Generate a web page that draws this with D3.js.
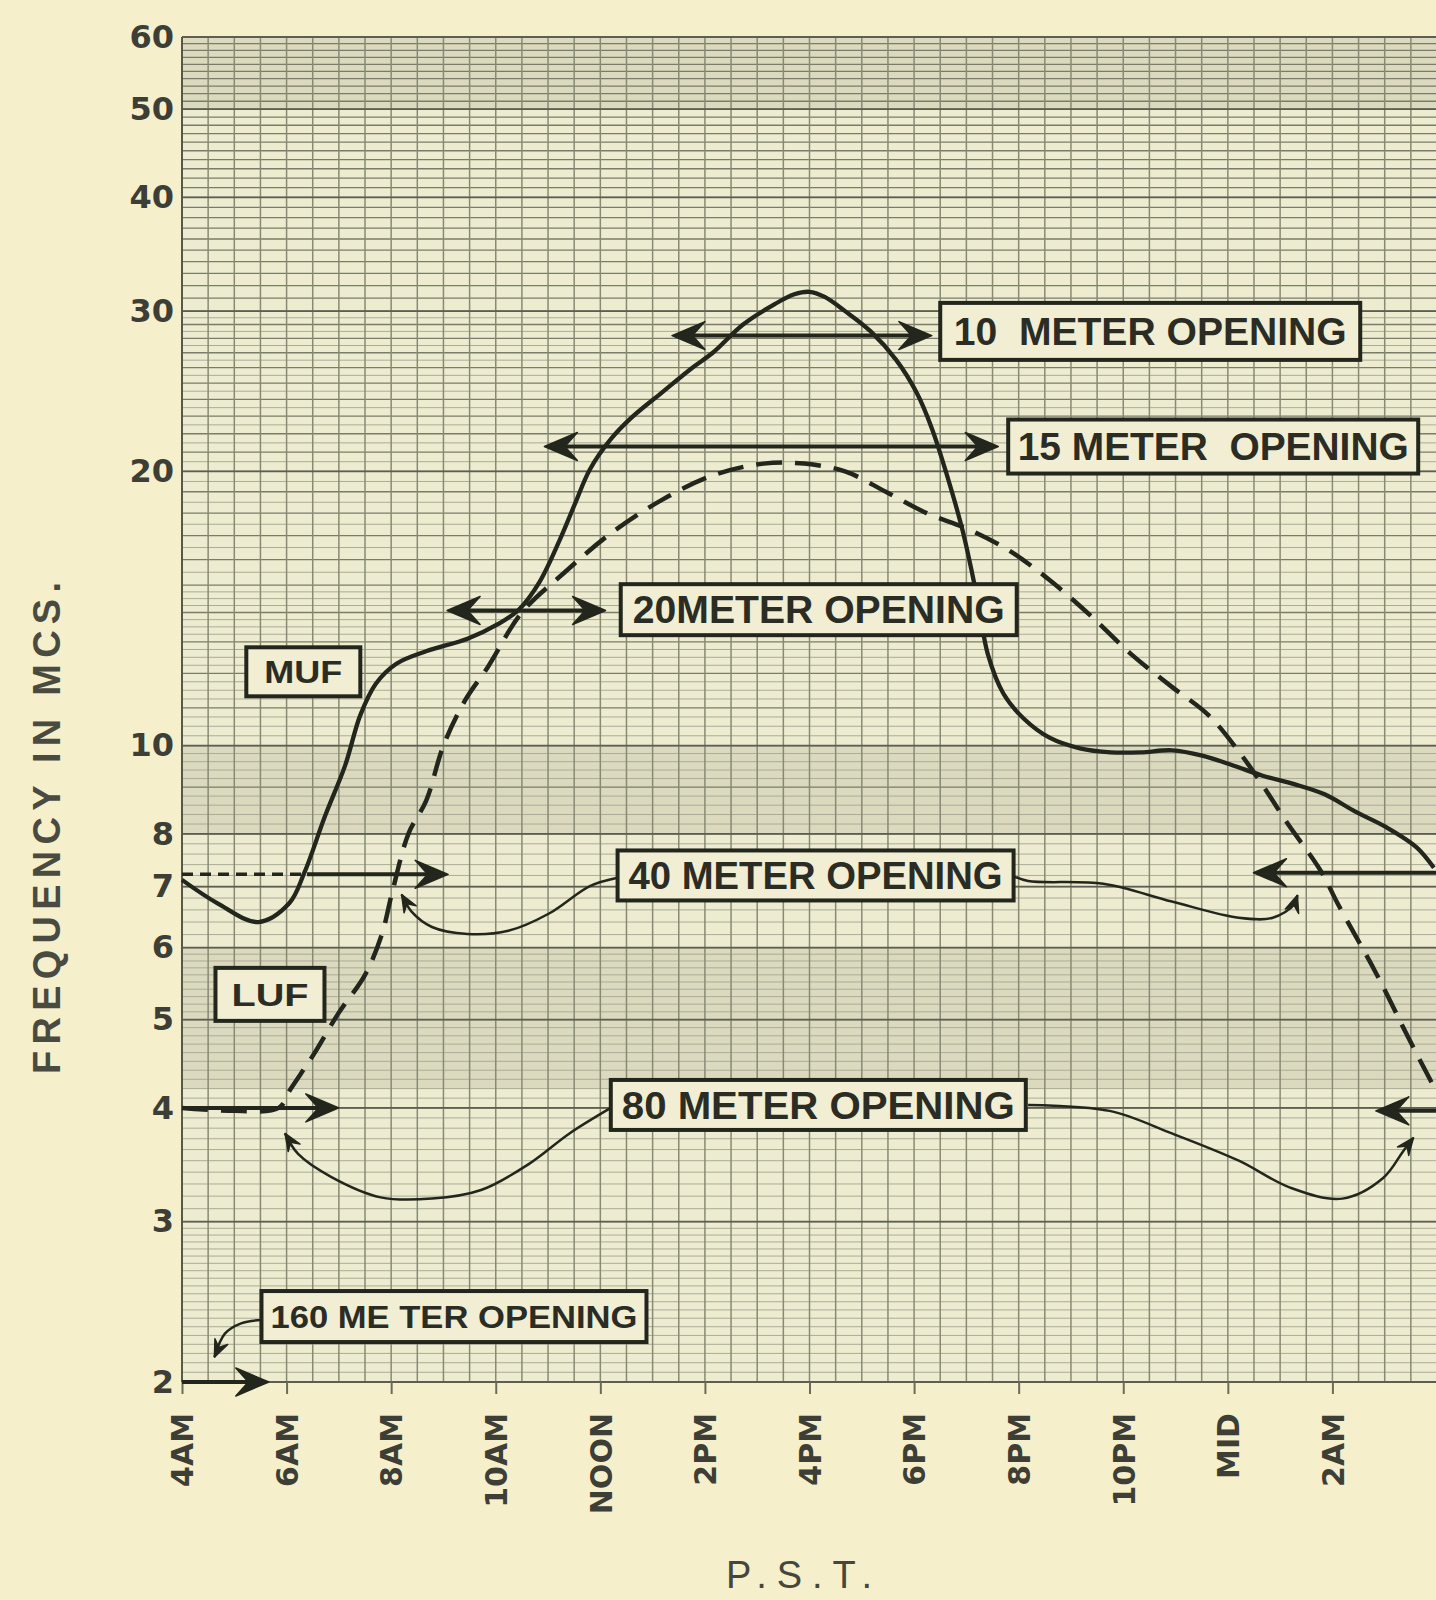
<!DOCTYPE html>
<html>
<head>
<meta charset="utf-8">
<script src="https://cdn.jsdelivr.net/npm/d3@7"></script>
<style>
  body { margin: 0; background: #f6efcb; }
  svg { display: block; }
</style>
</head>
<body>
<svg id="chart" width="1436" height="1600"></svg>
<script>
// hours are counted from 4 AM, frequency in Mc
let hourTicks = [0, 2, 4, 6, 8, 10, 12, 14, 16, 18, 20, 22]
let hourLabels = ['4AM', '6AM', '8AM', '10AM', 'NOON', '2PM', '4PM', '6PM', '8PM', '10PM', 'MID', '2AM']
let freqTicks = [2, 3, 4, 5, 6, 7, 8, 10, 20, 30, 40, 50, 60]

let mufHours = [0, 0.68, 1.46, 2.05, 2.34, 2.73, 3.12, 3.41, 3.71, 4.10, 4.68, 5.46, 6.05, 6.44, 6.83, 7.22, 7.51, 7.80, 8.20, 8.59, 9.17, 9.76, 10.15, 10.73, 11.32, 11.71, 12.0, 12.29, 12.68, 13.17, 13.66, 14.05, 14.34, 14.63, 14.93, 15.22, 15.41, 15.71, 16.10, 16.59, 17.17, 17.76, 18.34, 18.93, 19.51, 20.10, 20.68, 21.27, 21.85, 22.44, 23.02, 23.61, 23.94]
let mufFreq = [7.12, 6.71, 6.40, 6.71, 7.25, 8.35, 9.51, 10.8, 11.7, 12.3, 12.7, 13.1, 13.6, 14.1, 15.1, 16.8, 18.4, 20.1, 21.7, 22.9, 24.4, 26.0, 27.0, 29.0, 30.5, 31.3, 31.5, 31.1, 30.0, 28.5, 26.5, 24.4, 22.3, 19.8, 17.2, 14.4, 12.6, 11.4, 10.7, 10.2, 9.93, 9.83, 9.83, 9.88, 9.75, 9.51, 9.26, 9.07, 8.84, 8.46, 8.14, 7.73, 7.34]

let lufHours = [0, 1.0, 1.85, 2.07, 2.54, 2.99, 3.50, 3.82, 4.02, 4.33, 4.67, 5.0, 5.41, 5.85, 6.5, 7.32, 8.20, 9.17, 10.15, 11.12, 11.90, 12.68, 13.46, 14.24, 15.02, 15.80, 16.59, 17.37, 18.15, 18.93, 19.63, 20.21, 20.68, 21.13, 21.78, 22.11, 22.83, 23.49, 23.94]
let lufFreq = [4.0, 3.97, 4.0, 4.19, 4.6, 5.08, 5.6, 6.2, 6.9, 8.0, 8.7, 10.0, 11.2, 12.2, 14.0, 15.5, 17.1, 18.6, 19.8, 20.4, 20.4, 20.0, 19.0, 18.0, 17.3, 16.4, 15.2, 13.9, 12.6, 11.6, 10.8, 9.85, 9.02, 8.23, 7.28, 6.69, 5.63, 4.73, 4.22]

// band openings: from hour, to hour (arrow at "to"), frequency
let openFrom = [9.37, 6.93, 5.07, 2.39, 24, 0, 24, 0]
let openTo = [14.34, 15.61, 8.10, 5.09, 20.49, 3.0, 22.83, 1.66]
let openFreq = [28.2, 21.3, 14.07, 7.22, 7.25, 4.0, 3.97, 2.0]
let openBoth = [true, true, true, false, false, false, false, false]
let dashedStub = [0, 2.39, 7.22]

let labelText = ['MUF', 'LUF', '10  METER OPENING', '15 METER  OPENING', '20METER OPENING', '40 METER OPENING', '80 METER OPENING', '160 ME TER OPENING']
let labelHour = [1.23, 0.64, 14.50, 15.80, 8.39, 8.33, 8.20, 1.52]
let labelFreq = [12.05, 5.33, 28.5, 21.3, 14.1, 7.2, 4.03, 2.36]

let conn40aH = [8.33, 7.80, 7.02, 6.24, 5.46, 4.78, 4.39, 4.20]
let conn40aF = [7.16, 7.01, 6.54, 6.26, 6.21, 6.32, 6.57, 6.86]
let conn40bH = [15.90, 16.18, 17.62, 18.93, 20.21, 20.86, 21.27, 21.33]
let conn40bF = [7.19, 7.10, 7.05, 6.74, 6.47, 6.47, 6.69, 6.85]
let conn80aH = [8.20, 7.41, 6.63, 5.72, 4.78, 3.80, 2.85, 2.22, 1.97]
let conn80aF = [4.00, 3.75, 3.47, 3.25, 3.18, 3.19, 3.36, 3.56, 3.75]
let conn80bH = [16.18, 17.74, 18.93, 20.21, 21.19, 22.19, 22.97, 23.36, 23.55]
let conn80bF = [4.03, 3.97, 3.75, 3.50, 3.27, 3.18, 3.35, 3.59, 3.71]
let conn160H = [1.52, 1.13, 0.82, 0.62]
let conn160F = [2.34, 2.32, 2.26, 2.13]

// graph paper rulings: [from, to, step]
let rulings = [[2, 3, 0.05], [3, 6, 0.1], [6, 10, 0.2], [10, 15, 0.25], [15, 20, 0.5], [20, 30, 0.5], [30, 60, 1]]
let shadeBands = [[50, 60], [8, 10], [4.2, 6]]

// box width, box height, text length, font size
let boxSize = {
  'MUF': [114, 49, 78, 32],
  'LUF': [109, 53, 77, 32],
  '10  METER OPENING': [420, 57, 393, 38],
  '15 METER  OPENING': [410, 54, 391, 38],
  '20METER OPENING': [396, 51, 372, 38],
  '40 METER OPENING': [396, 50, 374, 38],
  '80 METER OPENING': [415, 50, 393, 38],
  '160 ME TER OPENING': [385, 51, 367, 31]
}

let ink = '#22261c'
let svg = d3.select('#chart')

let x = d3.scaleLinear().domain([0, 24]).range([182, 1437])
let y = d3.scaleLog().domain([2, 60]).range([1382, 37])

// paper
svg.append('rect')
  .attr('x', x(0)).attr('y', y(60))
  .attr('width', x(24) - x(0)).attr('height', y(2) - y(60))
  .attr('fill', '#edecd0')

svg.selectAll('.shade')
  .data(shadeBands)
  .enter()
  .append('rect')
  .attr('x', x(0)).attr('width', x(24) - x(0))
  .attr('y', (d) => y(d[1]))
  .attr('height', (d) => y(d[0]) - y(d[1]))
  .attr('fill', '#b9bba0')
  .attr('opacity', 0.35)

let minorLines = []
rulings.forEach((r) => {
  for (let v = r[0]; v < r[1] - 1e-9; v += r[2]) {
    minorLines.push(+v.toFixed(3))
  }
})

svg.selectAll('.hline')
  .data(minorLines)
  .enter()
  .append('line')
  .attr('x1', x(0)).attr('x2', x(24))
  .attr('y1', (d) => y(d)).attr('y2', (d) => y(d))
  .attr('stroke', (d) => Number.isInteger(d) ? '#7a7c68' : '#abac96')
  .attr('stroke-width', (d) => Number.isInteger(d) ? 1.3 : 1)

svg.selectAll('.vline')
  .data(d3.range(0, 24.01, 0.5))
  .enter()
  .append('line')
  .attr('x1', (d) => x(d)).attr('x2', (d) => x(d))
  .attr('y1', y(60)).attr('y2', y(2))
  .attr('stroke', '#888a74')
  .attr('stroke-width', 1.5)

svg.selectAll('.major')
  .data(freqTicks)
  .enter()
  .append('line')
  .attr('x1', x(0)).attr('x2', x(24))
  .attr('y1', (d) => y(d)).attr('y2', (d) => y(d))
  .attr('stroke', '#5c5f50')
  .attr('stroke-width', 1.8)

svg.append('line')
  .attr('x1', x(0)).attr('x2', x(0))
  .attr('y1', y(60)).attr('y2', y(2))
  .attr('stroke', '#55584a').attr('stroke-width', 2)

// axes
let yAxis = svg.append('g')
  .attr('transform', 'translate(' + x(0) + ',0)')
  .call(d3.axisLeft(y).tickValues(freqTicks).tickFormat(d3.format('d')).tickSize(0).tickPadding(8))
yAxis.select('.domain').remove()
yAxis.selectAll('text')
  .attr('font-family', 'DejaVu Sans, sans-serif')
  .attr('font-weight', 'bold')
  .attr('font-size', 32)
  .attr('fill', '#3d3e35')

let xAxis = svg.append('g')
  .attr('transform', 'translate(0,' + y(2) + ')')
  .call(d3.axisBottom(x).tickValues(hourTicks).tickFormat((d, i) => hourLabels[i]).tickSize(12))
xAxis.select('.domain').remove()
xAxis.selectAll('line').attr('stroke', '#6a6c5a').attr('stroke-width', 2)
xAxis.selectAll('text')
  .attr('transform', 'rotate(-90)')
  .attr('text-anchor', 'end')
  .attr('x', -31)
  .attr('y', 0)
  .attr('dy', '0.36em')
  .attr('font-family', 'DejaVu Sans, sans-serif')
  .attr('font-weight', 'bold')
  .attr('font-size', 30)
  .attr('fill', '#3d3e35')

svg.append('text')
  .attr('transform', 'translate(60,828) rotate(-90)')
  .attr('text-anchor', 'middle')
  .attr('font-family', 'Liberation Sans, Arial, sans-serif')
  .attr('font-weight', 'bold')
  .attr('font-size', 38)
  .attr('fill', '#4a4b40')
  .attr('textLength', 492)
  .attr('lengthAdjust', 'spacing')
  .text('FREQUENCY IN MCS.')

svg.append('text')
  .attr('x', 799).attr('y', 1588)
  .attr('text-anchor', 'middle')
  .attr('font-family', 'Liberation Sans, Arial, sans-serif')
  .attr('font-size', 38)
  .attr('fill', '#45463c')
  .attr('textLength', 146)
  .attr('lengthAdjust', 'spacing')
  .text('P.S.T.')

// curves
let curve = d3.line()
  .x((d) => x(d[0]))
  .y((d) => y(d[1]))
  .curve(d3.curveCatmullRom.alpha(0.5))

svg.append('path')
  .attr('d', curve(d3.zip(lufHours, lufFreq)))
  .attr('fill', 'none').attr('stroke', ink)
  .attr('stroke-width', 4.5)
  .attr('stroke-dasharray', '26,13')

svg.append('path')
  .attr('d', curve(d3.zip(mufHours, mufFreq)))
  .attr('fill', 'none').attr('stroke', ink)
  .attr('stroke-width', 4.3)
  .attr('stroke-linejoin', 'round')

let arrowHead = (px, py, angle, len, wid) => {
  let p = [[0, 0], [-len, -wid], [-len * 0.62, 0], [-len, wid]]
  let c = Math.cos(angle), s = Math.sin(angle)
  let pts = p.map((q) => [px + q[0] * c - q[1] * s, py + q[0] * s + q[1] * c])
  svg.append('path')
    .attr('d', 'M' + pts.map((q) => q.join(',')).join('L') + 'Z')
    .attr('fill', ink)
    .attr('stroke', ink)
    .attr('stroke-width', 1.5)
    .attr('stroke-linejoin', 'round')
}

// opening arrows
svg.append('line')
  .attr('x1', x(dashedStub[0])).attr('x2', x(dashedStub[1]))
  .attr('y1', y(dashedStub[2])).attr('y2', y(dashedStub[2]))
  .attr('stroke', ink).attr('stroke-width', 3.5)
  .attr('stroke-dasharray', '11,7')

openFrom.forEach((f, i) => {
  let a = x(f), b = x(openTo[i]), yy = y(openFreq[i])
  let shaft = a < b ? b - 10 : b + 10
  let start = openBoth[i] ? (a < b ? a + 10 : a - 10) : a
  svg.append('line')
    .attr('x1', start).attr('x2', shaft)
    .attr('y1', yy).attr('y2', yy)
    .attr('stroke', ink).attr('stroke-width', 4)
  arrowHead(b, yy, a < b ? 0 : Math.PI, 33, 14)
  if (openBoth[i]) arrowHead(a, yy, a < b ? Math.PI : 0, 33, 14)
})

// connectors from labels
let conns = [[conn40aH, conn40aF], [conn40bH, conn40bF], [conn80aH, conn80aF], [conn80bH, conn80bF], [conn160H, conn160F]]
conns.forEach((c) => {
  let pts = d3.zip(c[0], c[1])
  svg.append('path')
    .attr('d', curve(pts))
    .attr('fill', 'none').attr('stroke', ink)
    .attr('stroke-width', 2.5)
  let n = pts.length
  let tx = x(pts[n - 1][0]), ty = y(pts[n - 1][1])
  let ang = Math.atan2(ty - y(pts[n - 2][1]), tx - x(pts[n - 2][0]))
  arrowHead(tx, ty, ang, 17, 7)
})

// label boxes
labelText.forEach((t, i) => {
  let s = boxSize[t]
  let bx = x(labelHour[i]), by = y(labelFreq[i])
  svg.append('rect')
    .attr('x', bx).attr('y', by - s[1] / 2)
    .attr('width', s[0]).attr('height', s[1])
    .attr('fill', '#f1eed4')
    .attr('stroke', ink).attr('stroke-width', 4)
  svg.append('text')
    .attr('x', bx + s[0] / 2).attr('y', by)
    .attr('dy', '0.36em')
    .attr('text-anchor', 'middle')
    .attr('font-family', 'Liberation Sans, Arial, sans-serif')
    .attr('font-weight', 'bold')
    .attr('font-size', s[3])
    .attr('fill', '#2b2d24')
    .attr('textLength', s[2])
    .attr('lengthAdjust', 'spacingAndGlyphs')
    .attr('xml:space', 'preserve')
    .style('white-space', 'pre')
    .text(t)
})
</script>
</body>
</html>
